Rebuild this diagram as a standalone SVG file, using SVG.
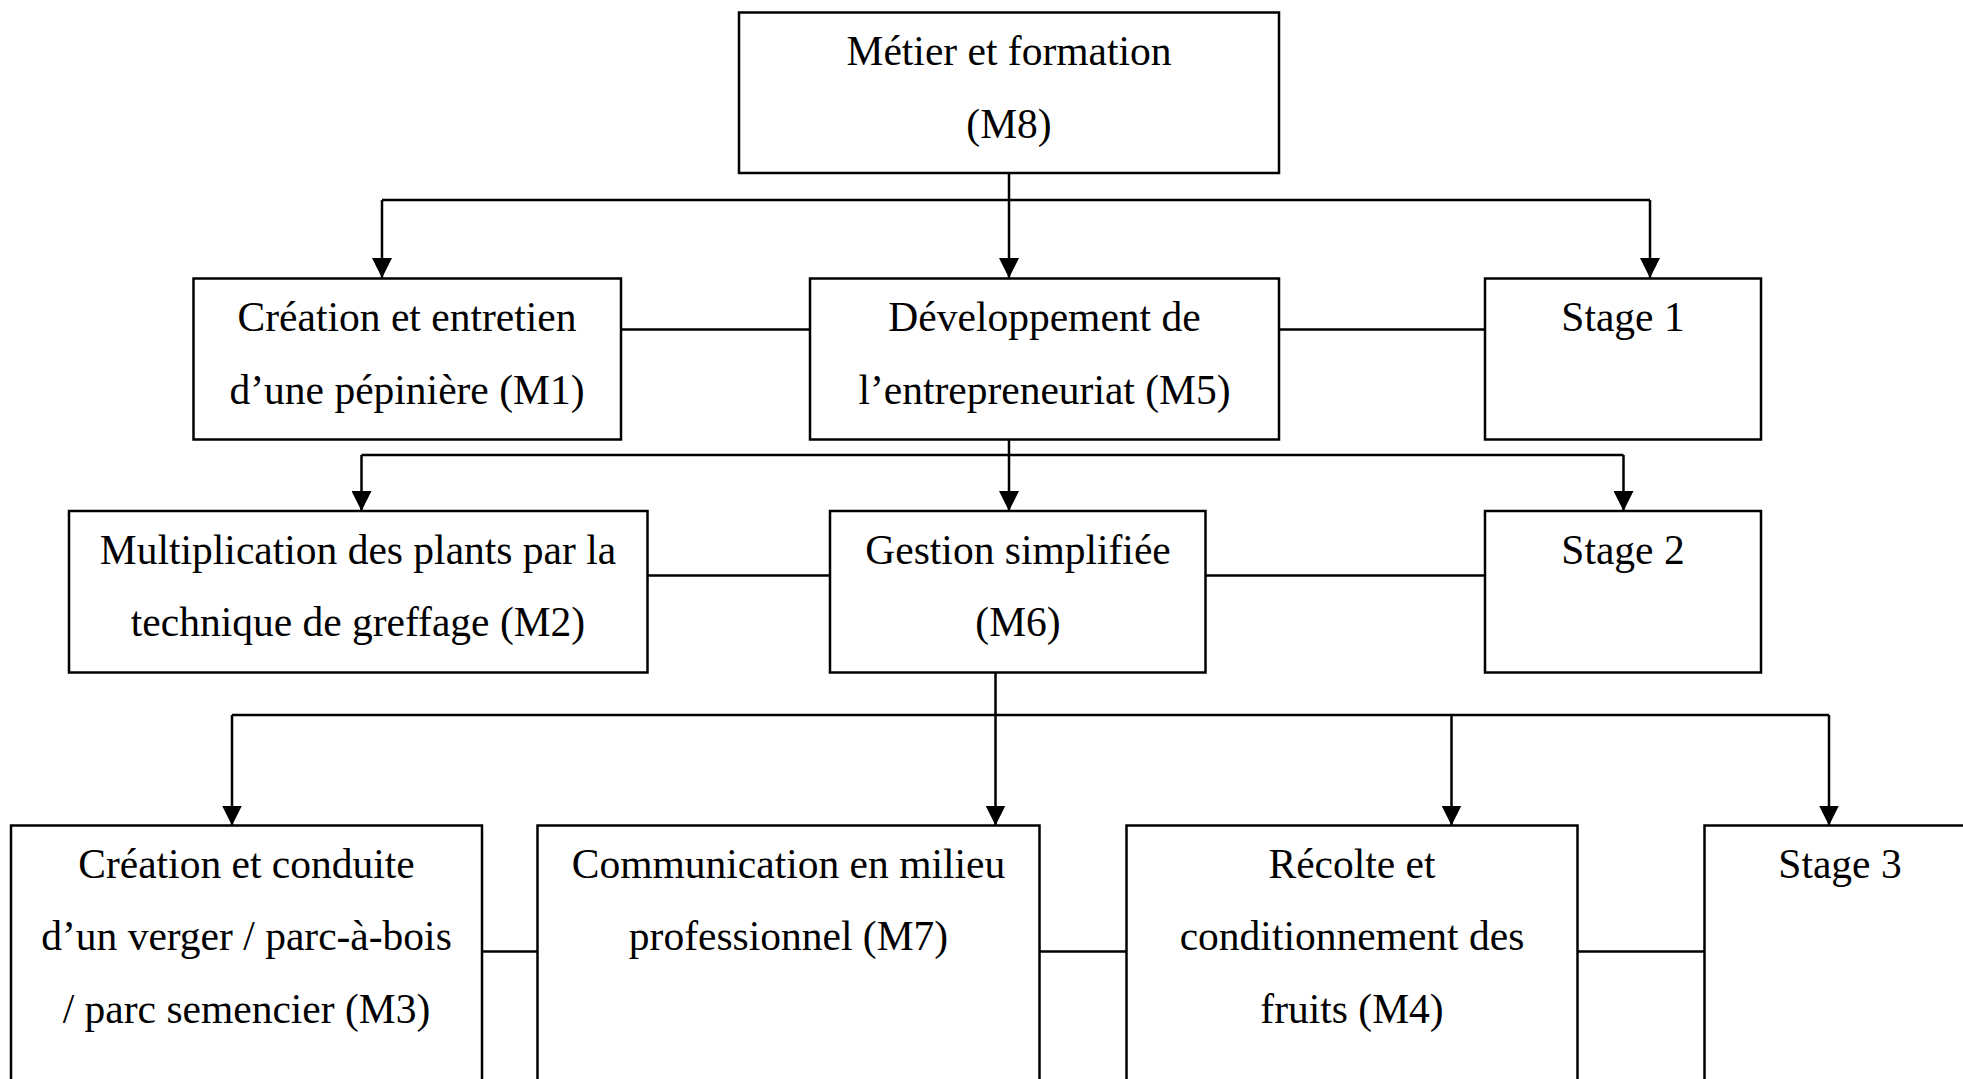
<svg xmlns="http://www.w3.org/2000/svg" width="1963" height="1079" viewBox="0 0 1963 1079">
<style>
.box{fill:#fff;stroke:#000;stroke-width:2.5}
.ln{fill:none;stroke:#000;stroke-width:2.5}
.t{font-family:"Liberation Serif","Times New Roman",serif;font-size:41.5px;fill:#000;text-anchor:middle}
</style>
<defs>
<marker id="ah" markerUnits="userSpaceOnUse" markerWidth="20" markerHeight="20" refX="20" refY="10" orient="auto" viewBox="0 0 20 20">
<path d="M0,0 L20,10 L0,20 z" fill="#000"/>
</marker>
</defs>
<rect width="1963" height="1079" fill="#fff"/>
<g id="connectors">
<path class="ln" d="M1009,173 V200 M382,200 H1650"/>
<path class="ln" d="M382,200 V278" marker-end="url(#ah)"/>
<path class="ln" d="M1009,200 V278" marker-end="url(#ah)"/>
<path class="ln" d="M1650,200 V278" marker-end="url(#ah)"/>
<path class="ln" d="M621,329.5 H810 M1279,329.5 H1485"/>
<path class="ln" d="M1009,439.5 V455 M361.5,455 H1623.5"/>
<path class="ln" d="M361.5,455 V511" marker-end="url(#ah)"/>
<path class="ln" d="M1009,455 V511" marker-end="url(#ah)"/>
<path class="ln" d="M1623.5,455 V511" marker-end="url(#ah)"/>
<path class="ln" d="M647.5,575.5 H830 M1205.5,575.5 H1485"/>
<path class="ln" d="M995.5,672.5 V715 M232,715 H1829"/>
<path class="ln" d="M232,715 V825.5" marker-end="url(#ah)"/>
<path class="ln" d="M995.5,715 V825.5" marker-end="url(#ah)"/>
<path class="ln" d="M1451.5,715 V825.5" marker-end="url(#ah)"/>
<path class="ln" d="M1829,715 V825.5" marker-end="url(#ah)"/>
<path class="ln" d="M482,951.5 H537.5 M1039.5,951.5 H1126.5 M1577.5,951.5 H1704.5"/>
</g>
<g id="m8">
<rect class="box" x="739" y="12.5" width="540" height="160.5"/>
<text class="t" x="1009" y="65">Métier et formation</text>
<text class="t" x="1009" y="138">(M8)</text>
</g>
<g id="m1">
<rect class="box" x="193.5" y="278.5" width="427.5" height="161"/>
<text class="t" x="407" y="331">Création et entretien</text>
<text class="t" x="407" y="403.5">d’une pépinière (M1)</text>
</g>
<g id="m5">
<rect class="box" x="810" y="278.5" width="469" height="161"/>
<text class="t" x="1044.5" y="331">Développement de</text>
<text class="t" x="1044.5" y="403.5">l’entrepreneuriat (M5)</text>
</g>
<g id="stage1">
<rect class="box" x="1485" y="278.5" width="276" height="161"/>
<text class="t" x="1623" y="331">Stage 1</text>
</g>
<g id="m2">
<rect class="box" x="69" y="511" width="578.5" height="161.5"/>
<text class="t" x="358" y="563.5">Multiplication des plants par la</text>
<text class="t" x="358" y="636">technique de greffage (M2)</text>
</g>
<g id="m6">
<rect class="box" x="830" y="511" width="375.5" height="161.5"/>
<text class="t" x="1018" y="563.5">Gestion simplifiée</text>
<text class="t" x="1018" y="636">(M6)</text>
</g>
<g id="stage2">
<rect class="box" x="1485" y="511" width="276" height="161.5"/>
<text class="t" x="1623" y="563.5">Stage 2</text>
</g>
<g id="m3">
<rect class="box" x="11" y="825.5" width="471" height="280"/>
<text class="t" x="246.5" y="877.5">Création et conduite</text>
<text class="t" x="246.5" y="950">d’un verger / parc-à-bois</text>
<text class="t" x="246.5" y="1022.5">/ parc semencier (M3)</text>
</g>
<g id="m7">
<rect class="box" x="537.5" y="825.5" width="502" height="280"/>
<text class="t" x="788.5" y="877.5">Communication en milieu</text>
<text class="t" x="788.5" y="950">professionnel (M7)</text>
</g>
<g id="m4">
<rect class="box" x="1126.5" y="825.5" width="451" height="280"/>
<text class="t" x="1352" y="877.5">Récolte et</text>
<text class="t" x="1352" y="950">conditionnement des</text>
<text class="t" x="1352" y="1022.5">fruits (M4)</text>
</g>
<g id="stage3">
<rect class="box" x="1704.5" y="825.5" width="280" height="280"/>
<text class="t" x="1840" y="877.5">Stage 3</text>
</g>
</svg>
